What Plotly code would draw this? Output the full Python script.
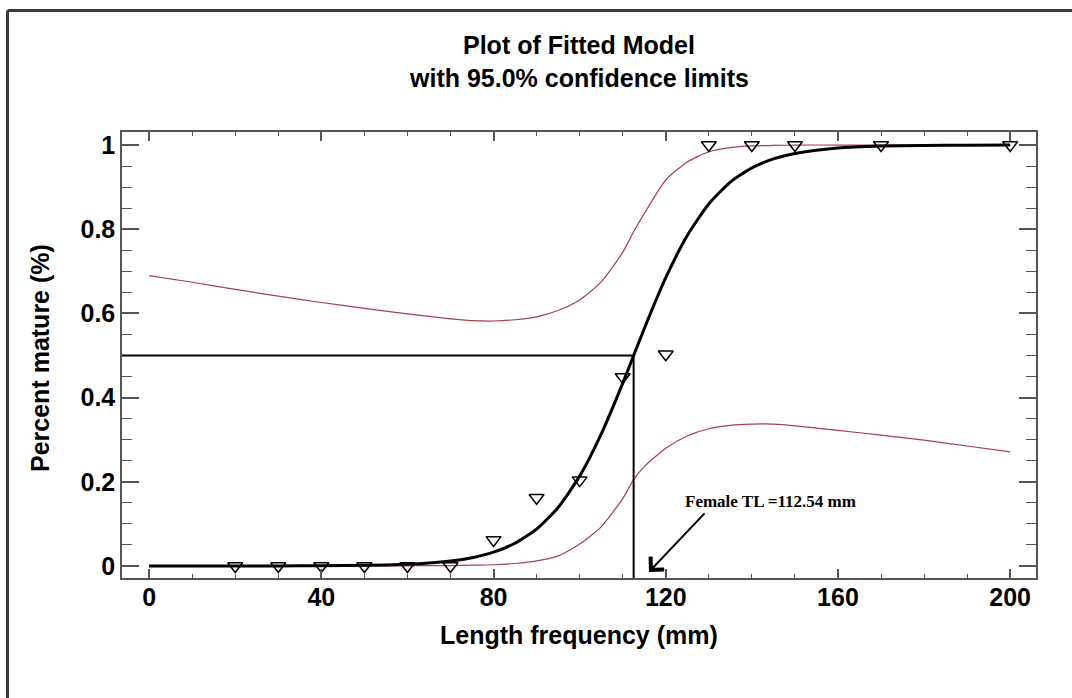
import plotly.graph_objects as go

# ---- data ----
x_curve = [0, 10, 20, 30, 40, 50, 60, 65, 70, 75, 80, 85, 90, 95, 100, 105, 110, 112.54,
           115, 120, 125, 130, 135, 140, 145, 150, 160, 170, 180, 190, 200]
fit = [0.0000, 0.0000, 0.0001, 0.0002, 0.0005, 0.0015, 0.0042, 0.0071, 0.0119, 0.0198, 0.0329,
       0.054, 0.0876, 0.139, 0.2135, 0.3135, 0.434, 0.5, 0.5636, 0.6848, 0.785, 0.860, 0.912,
       0.9457, 0.967, 0.980, 0.9929, 0.9975, 0.9991, 0.9997, 0.9999]
upper = [0.690, 0.674, 0.657, 0.641, 0.626, 0.612, 0.599, 0.593, 0.587, 0.583, 0.582, 0.585,
         0.592, 0.607, 0.632, 0.675, 0.745, 0.794, 0.837, 0.917, 0.960, 0.984, 0.994, 0.998,
         0.999, 1.0, 1.0, 1.0, 1.0, 1.0, 1.0]
lower = [0.0, 0.0, 0.0, 0.0, 0.0, 0.0, 0.0005, 0.001, 0.001, 0.002, 0.003, 0.006, 0.012, 0.024,
         0.052, 0.093, 0.160, 0.205, 0.236, 0.280, 0.309, 0.326, 0.334, 0.337, 0.337, 0.333,
         0.322, 0.311, 0.299, 0.285, 0.271]

obs_x = [20, 30, 40, 50, 60, 70, 80, 90, 100, 110, 120, 130, 140, 150, 170, 200]
obs_y = [0.0, 0.0, 0.0, 0.0, 0.0, 0.0, 0.062, 0.162, 0.204, 0.449, 0.503, 1.0, 1.0, 1.0, 1.0, 1.0]

L50 = 112.54
P50 = 0.5
x_range = [-6.3, 206]
y_range = [-0.0285, 1.031]
x_ticks = [0, 40, 80, 120, 160, 200]
y_ticks = [0, 0.2, 0.4, 0.6, 0.8, 1]

FONT = "Liberation Sans, Arial, sans-serif"
CI_COLOR = "#a8404e"

fig = go.Figure()
fig.add_trace(go.Scatter(x=x_curve, y=upper, mode="lines",
                         line=dict(color=CI_COLOR, width=1.2, shape="spline", smoothing=0.6),
                         hoverinfo="skip"))
fig.add_trace(go.Scatter(x=x_curve, y=lower, mode="lines",
                         line=dict(color=CI_COLOR, width=1.2, shape="spline", smoothing=0.6),
                         hoverinfo="skip"))
fig.add_trace(go.Scatter(x=x_curve, y=fit, mode="lines",
                         line=dict(color="black", width=3, shape="spline", smoothing=0.6)))
fig.add_trace(go.Scatter(x=obs_x, y=obs_y, mode="markers",
                         marker=dict(symbol="triangle-down-open", size=13,
                                     color="black", line=dict(color="black", width=1.5))))

# reference lines at L50
fig.add_shape(type="line", xref="x", yref="y", x0=x_range[0], x1=L50, y0=P50, y1=P50,
              line=dict(color="black", width=2))
fig.add_shape(type="line", xref="x", yref="y", x0=L50, x1=L50, y0=y_range[0], y1=P50,
              line=dict(color="black", width=2))

# outer frame: only top and left edges are visible in the reference crop
fx0 = (7.5 - 122) / 914
fy_top = (578 - 10.5) / 446
fig.add_shape(type="line", xref="paper", yref="paper", x0=fx0, x1=(1072 - 122) / 914,
              y0=fy_top, y1=fy_top, line=dict(color="#3a3a3a", width=3), layer="above")
fig.add_shape(type="line", xref="paper", yref="paper", x0=fx0, x1=fx0,
              y0=(578 - 698) / 446, y1=fy_top, line=dict(color="#3a3a3a", width=3), layer="above")

ann = []
ann.append(dict(text="<b>Plot of Fitted Model</b>", xref="paper", yref="paper",
                x=0.5, y=(578 - 45) / 446, showarrow=False,
                font=dict(family=FONT, size=25, color="black"), xanchor="center", yanchor="middle"))
ann.append(dict(text="<b>with 95.0% confidence limits</b>", xref="paper", yref="paper",
                x=0.5, y=(578 - 78) / 446, showarrow=False,
                font=dict(family=FONT, size=25, color="black"), xanchor="center", yanchor="middle"))
ann.append(dict(text="<b>Length frequency (mm)</b>", xref="paper", yref="paper",
                x=0.5, y=(578 - 635) / 446, showarrow=False,
                font=dict(family=FONT, size=25, color="black"), xanchor="center", yanchor="middle"))
ann.append(dict(text="<b>Percent mature (%)</b>", xref="paper", yref="paper",
                x=(40 - 122) / 914, y=(578 - 358) / 446, showarrow=False, textangle=-90,
                font=dict(family=FONT, size=25, color="black"), xanchor="center", yanchor="middle"))
ann.append(dict(text="<b>Female TL =112.54 mm</b>", xref="x", yref="y",
                x=144.3, y=0.154, showarrow=False,
                font=dict(family="Liberation Serif, Times New Roman, serif", size=17, color="black"),
                xanchor="center", yanchor="middle"))
ann.append(dict(text="", xref="x", yref="y", x=116.1, y=-0.014, ax=57, ay=-60,
                showarrow=True, arrowhead=4, arrowsize=1.8, arrowwidth=2, arrowcolor="black"))

axis_common = dict(showline=True, linecolor="#555555", linewidth=1.5, mirror="allticks",
                   ticks="inside", tickcolor="#555555", tickwidth=1.5, showgrid=False,
                   zeroline=False,
                   tickfont=dict(family=FONT, size=25, color="black", weight="bold"))

fig.update_layout(
    width=1072, height=698,
    margin=dict(l=122, r=36, t=132, b=120),
    paper_bgcolor="white", plot_bgcolor="white",
    showlegend=False,
    annotations=ann,
    xaxis=dict(range=x_range, tickvals=x_ticks, ticklen=9, ticklabelstandoff=-4,
               minor=dict(dtick=10, tick0=0, ticklen=4, ticks="inside", tickcolor="#555555",
                          tickwidth=1.2),
               **axis_common),
    yaxis=dict(range=y_range, tickvals=y_ticks, ticklen=17,
               minor=dict(dtick=0.05, tick0=0, ticklen=10, ticks="inside", tickcolor="#555555",
                          tickwidth=1.2),
               **axis_common),
)

fig.write_html("out.html")
